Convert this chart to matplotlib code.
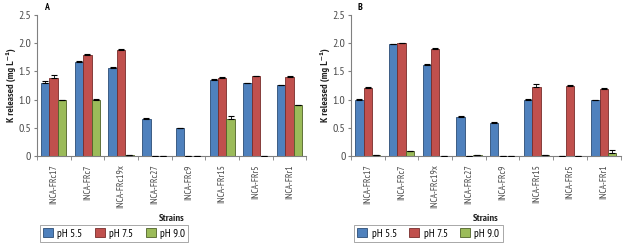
import matplotlib
matplotlib.use("Agg")
import matplotlib.pyplot as plt
from matplotlib.patches import Patch
import numpy as np

# ── data ────────────────────────────────────────────────────────────
strains = ["INCA-FRc17", "INCA-FRc7", "INCA-FRc19x", "INCA-FRc27",
           "INCA-FRc9", "INCA-FRr15", "INCA-FRr5", "INCA-FRr1"]
series = ["pH 5.5", "pH 7.5", "pH 9.0"]

a_ph55 = [1.30, 1.67, 1.55, 0.65, 0.49, 1.35, 1.29, 1.25]
a_ph75 = [1.38, 1.79, 1.88, 0.00, 0.00, 1.39, 1.41, 1.40]
a_ph90 = [0.99, 1.00, 0.01, 0.00, 0.00, 0.65, 0.00, 0.90]
a_err55 = [0.02, 0.01, 0.02, 0.02, 0.01, 0.01, 0.01, 0.01]
a_err75 = [0.05, 0.01, 0.01, 0.00, 0.00, 0.01, 0.01, 0.01]
a_err90 = [0.01, 0.01, 0.00, 0.00, 0.00, 0.05, 0.00, 0.01]

b_ph55 = [1.00, 1.98, 1.62, 0.69, 0.59, 1.00, 0.00, 0.99]
b_ph75 = [1.21, 2.00, 1.90, 0.00, 0.00, 1.22, 1.24, 1.19]
b_ph90 = [0.01, 0.08, 0.00, 0.01, 0.00, 0.01, 0.00, 0.05]
b_err55 = [0.01, 0.01, 0.01, 0.01, 0.01, 0.01, 0.00, 0.01]
b_err75 = [0.01, 0.01, 0.01, 0.00, 0.00, 0.05, 0.01, 0.01]
b_err90 = [0.00, 0.01, 0.00, 0.00, 0.00, 0.00, 0.00, 0.05]

# ── style ───────────────────────────────────────────────────────────
FILLS = ["#4F81BD", "#C0504D", "#9BBB59"]
EDGES = ["#2C4D75", "#772C2A", "#4F6228"]
AXIS_GREY = "#808080"
TXT_GREY = "#4A4A4A"
plt.rcParams["font.family"] = ["PT Sans Narrow", "DejaVu Sans"]

fig = plt.figure(figsize=(6.24, 2.44), dpi=100)
fig.patch.set_facecolor("white")

axA = fig.add_axes([0.059, 0.361, 0.432, 0.578])
axB = fig.add_axes([0.5625, 0.361, 0.432, 0.578])

x = np.arange(len(strains))
W = 0.25


def draw_panel(ax, letter, vals, errs):
    for i, (v, e) in enumerate(zip(vals, errs)):
        ax.bar(x + (i - 1) * W, v, W, color=FILLS[i], edgecolor=EDGES[i],
               linewidth=0.6, zorder=2)
        ax.errorbar(x + (i - 1) * W, v, yerr=[np.zeros(len(e)), e],
                    fmt="none", ecolor="black", elinewidth=0.6,
                    capsize=2, capthick=0.8, zorder=3)
    ax.set_xlim(-0.5, len(strains) - 0.5)
    ax.set_ylim(0, 2.5)
    ax.set_yticks([0, 0.5, 1.0, 1.5, 2.0, 2.5])
    ax.set_yticklabels(["0", "0.5", "1.0", "1.5", "2.0", "2.5"],
                       fontsize=8.5, color=TXT_GREY)
    ax.set_xticks(x)
    ax.set_xticklabels(strains, rotation=90, fontsize=7, color=TXT_GREY)
    ax.tick_params(axis="x", length=0, pad=6)
    ax.set_xticks(np.arange(-0.5, len(strains), 1), minor=True)
    ax.tick_params(axis="x", which="minor", length=3, color=AXIS_GREY,
                   direction="out")
    ax.tick_params(axis="y", length=2.5, color=AXIS_GREY, pad=1.5)
    for s in ["top", "right"]:
        ax.spines[s].set_visible(False)
    for s in ["left", "bottom"]:
        ax.spines[s].set_color(AXIS_GREY)
        ax.spines[s].set_linewidth(0.8)
    ax.set_ylabel("K released (mg L\u207b\u00b9)", fontsize=7.5,
                  fontweight="bold", color="#222222", labelpad=2)
    ax.set_xlabel("Strains", fontsize=7.5, fontweight="bold", color="#222222",
                  labelpad=4)
    ax.text(0.025, 1.02, letter, transform=ax.transAxes, fontsize=7,
            fontweight="bold", ha="left", va="bottom")

    handles = [Patch(facecolor=FILLS[i], edgecolor=EDGES[i], linewidth=0.6,
                     label=series[i]) for i in range(3)]
    leg = ax.legend(handles=handles, loc="upper left",
                    bbox_to_anchor=(-0.01, -0.45), ncol=3, fontsize=8,
                    frameon=True, fancybox=False, edgecolor=AXIS_GREY,
                    handlelength=0.9, handleheight=0.9, handletextpad=0.4,
                    columnspacing=1.1, borderpad=0.3)
    leg.get_frame().set_linewidth(0.6)


draw_panel(axA, "A", [a_ph55, a_ph75, a_ph90], [a_err55, a_err75, a_err90])
draw_panel(axB, "B", [b_ph55, b_ph75, b_ph90], [b_err55, b_err75, b_err90])

fig.savefig("out.png", dpi=100, facecolor="white")
plt.close(fig)
